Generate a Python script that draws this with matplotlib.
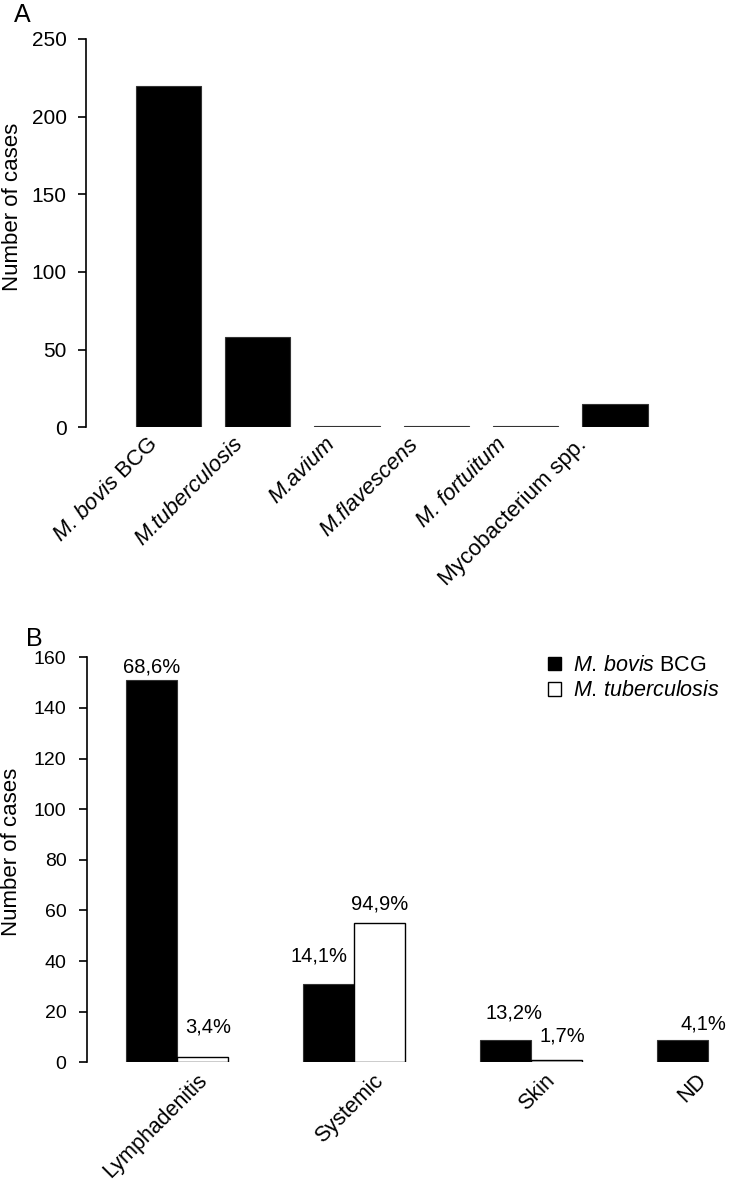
import numpy as np
import matplotlib
matplotlib.use("Agg")
import matplotlib.pyplot as plt
from matplotlib.patches import Patch
from matplotlib.transforms import ScaledTranslation

plt.rcParams['font.family'] = ['Liberation Sans', 'DejaVu Sans']
plt.rcParams['mathtext.fontset'] = 'custom'
plt.rcParams['mathtext.rm'] = 'Liberation Sans'
plt.rcParams['mathtext.it'] = 'Liberation Sans:italic'

# panel A: species
species = ["M. bovis BCG", "M.tuberculosis", "M.avium", "M.flavescens",
           "M. fortuitum", "Mycobacterium spp."]
species_cases = [220, 58, 1, 1, 1, 15]

# panel B: clinical form by species
sites = ["Lymphadenitis", "Systemic", "Skin", "ND"]
bcg_cases = [151, 31, 9, 9]
tb_cases = [2, 55, 1, 0]
bcg_pct = ["68,6%", "14,1%", "13,2%", "4,1%"]
tb_pct = ["3,4%", "94,9%", "1,7%", ""]

W, H = 729, 1185
fig = plt.figure(figsize=(W / 100, H / 100), dpi=100)


def px_axes(left, right, top, bottom):
    return fig.add_axes([left / W, 1 - bottom / H, (right - left) / W, (bottom - top) / H])


def style_axes(ax):
    for s in ["top", "right", "bottom"]:
        ax.spines[s].set_visible(False)
    ax.spines["left"].set_linewidth(1.2)
    ax.tick_params(axis="y", direction="out", length=6, width=1.2)


# ---- panel A ----
axA = px_axes(86, 700, 39, 427.3)
x = np.arange(len(species))
axA.bar(x, species_cases, width=0.73, color="black", edgecolor="#333333", linewidth=0.8)
axA.set_xlim(-0.92, 5.95)
axA.set_ylim(0, 250)
axA.set_yticks(range(0, 251, 50))
style_axes(axA)
axA.tick_params(axis="y", labelsize=15, pad=8)

labelsA = [r"$\mathit{M.\,bovis}$ BCG"] + species[1:]
axA.set_xticks(x)
axA.set_xticklabels(labelsA, rotation=45, ha="right", va="center",
                    rotation_mode="anchor", fontsize=16)
axA.tick_params(axis="x", length=0, pad=10)
shiftA = [-14, -18, -15, -21, -23, -32]  # px, label end vs bar centre
for i, lab in enumerate(axA.get_xticklabels()):
    lab.set_transform(lab.get_transform() + ScaledTranslation(shiftA[i] / 100, 0, fig.dpi_scale_trans))
    if 1 <= i <= 4:
        lab.set_fontstyle("italic")
axA.set_ylabel("Number of cases", fontsize=16)
axA.yaxis.set_label_coords(-0.103, 0.567)

# ---- panel B ----
axB = px_axes(87.3, 729, 657.3, 1062.3)
g = np.arange(len(sites))
bw = 0.288
axB.bar(g - bw / 2, bcg_cases, width=bw, color="black", edgecolor="#333333", linewidth=0.8)
tb_lw = [1.0 if v > 0 else 0 for v in tb_cases]
axB.bar(g + bw / 2, tb_cases, width=bw, color="white", edgecolor="black", linewidth=tb_lw)
axB.set_xlim(-0.508, 3.117)
axB.set_ylim(0, 160)
axB.set_yticks(range(0, 161, 20))
style_axes(axB)
axB.tick_params(axis="y", labelsize=14, pad=9)

axB.set_xticks(g)
axB.set_xticklabels(sites, rotation=45, ha="right", va="center",
                    rotation_mode="anchor", fontsize=15.5)
axB.tick_params(axis="x", length=0, pad=11)
shiftB = [27, 26, 20, -5]
for i, lab in enumerate(axB.get_xticklabels()):
    lab.set_transform(lab.get_transform() + ScaledTranslation(shiftB[i] / 100, 0, fig.dpi_scale_trans))
axB.set_ylabel("Number of cases", fontsize=16)
axB.yaxis.set_label_coords(-0.102, 0.519)

# percentage labels (pixel offsets above bar tops)
bcg_off = [(0, 13), (-10, 28), (8, 27), (21, 16)]
tb_off = [(5, 30), (0, 19), (6, 24), (0, 0)]
for i in range(len(sites)):
    axB.annotate(bcg_pct[i], (g[i] - bw / 2, bcg_cases[i]), xytext=bcg_off[i],
                 textcoords="offset pixels", ha="center", va="center", fontsize=14.5)
    if tb_pct[i]:
        axB.annotate(tb_pct[i], (g[i] + bw / 2, tb_cases[i]), xytext=tb_off[i],
                     textcoords="offset pixels", ha="center", va="center", fontsize=14.5)

handles = [Patch(facecolor="black", edgecolor="black"),
           Patch(facecolor="white", edgecolor="black")]
axB.legend(handles, [r"$\mathit{M.\,bovis}$ BCG", r"$\mathit{M.\,tuberculosis}$"],
           loc="upper left", bbox_to_anchor=(548 / W, 1 - 655 / H),
           bbox_transform=fig.transFigure, frameon=False, fontsize=15.5,
           handlelength=0.6, handleheight=0.6, handletextpad=0.55,
           labelspacing=0.2, borderpad=0, borderaxespad=0)

fig.text(22 / W, 1 - 15 / H, "A", ha="center", va="center", fontsize=18)
fig.text(34 / W, 1 - 639 / H, "B", ha="center", va="center", fontsize=18)

fig.savefig("out.png", dpi=100)
